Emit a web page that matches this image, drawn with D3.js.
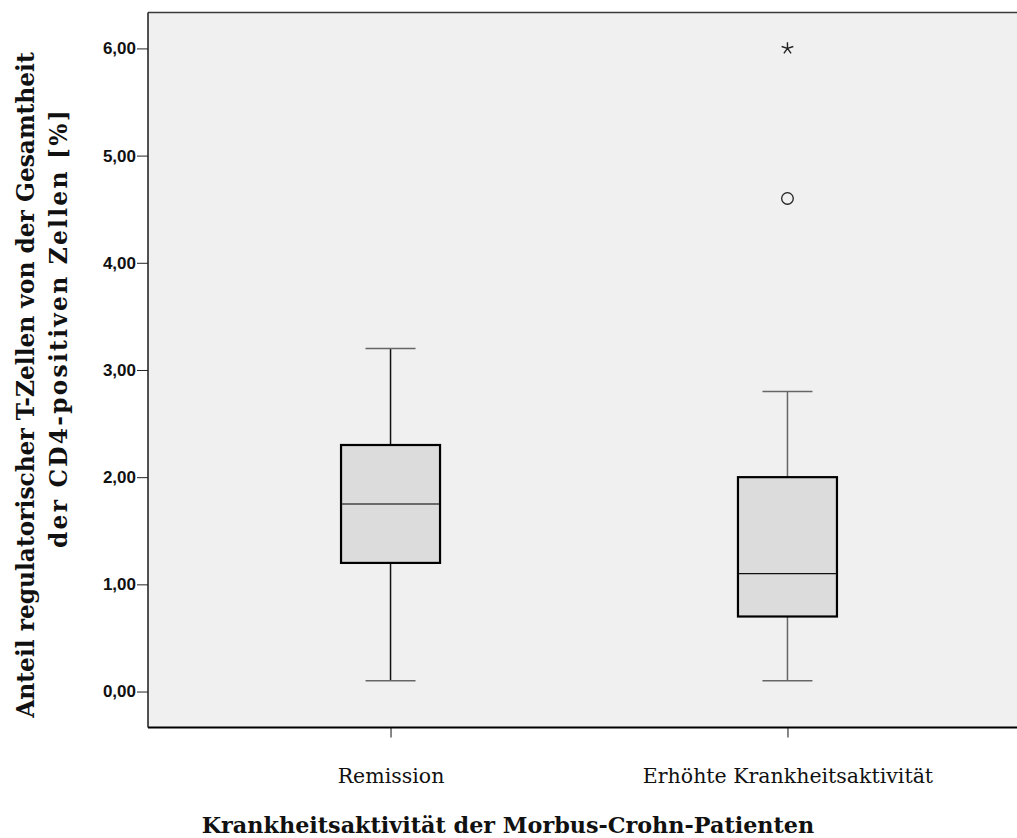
<!DOCTYPE html>
<html>
<head>
<meta charset="utf-8">
<script src="https://cdn.jsdelivr.net/npm/d3@7/dist/d3.min.js"></script>
<style>
  html, body { margin: 0; padding: 0; background: #ffffff; }
  svg { display: block; }
</style>
</head>
<body>
<svg id="chart" width="1017" height="838"></svg>
<script>
// Group labels along the x axis
const categories = ["Remission", "Erhöhte Krankheitsaktivität"];
// Box-plot summary per group (percent)
const whiskerLow  = [0.10, 0.10];
const quartile1   = [1.20, 0.70];
const medians     = [1.75, 1.10];
const quartile3   = [2.30, 2.00];
const whiskerHigh = [3.20, 2.80];
// Outliers: circles (mild) and stars (extreme)
const outlierGroup = ["Erhöhte Krankheitsaktivität"];
const outlierValue = [4.60];
const extremeGroup = ["Erhöhte Krankheitsaktivität"];
const extremeValue = [6.00];
// Y axis ticks
const yTicks = [0, 1, 2, 3, 4, 5, 6];

const svg = d3.select("#chart");
const plot = { left: 148, top: 12.5, right: 1030, bottom: 727.5 };

const y = d3.scaleLinear().domain([-0.3355, 6.335]).range([plot.bottom, plot.top]);
const x = d3.scalePoint().domain(categories).range([plot.left, plot.right]).padding(0.611);

const boxW = 99, capW = 50;

// Plot background
svg.append("rect")
  .attr("x", plot.left).attr("y", plot.top)
  .attr("width", plot.right - plot.left).attr("height", plot.bottom - plot.top)
  .attr("fill", "#f0f0f0");

// Frame
svg.append("line").attr("x1", plot.left).attr("x2", plot.right)
  .attr("y1", plot.top).attr("y2", plot.top)
  .attr("stroke", "#3a3a3a").attr("stroke-width", 1.5);
svg.append("line").attr("x1", plot.left).attr("x2", plot.right)
  .attr("y1", plot.bottom).attr("y2", plot.bottom)
  .attr("stroke", "#000").attr("stroke-width", 2);

// Y axis
const yAxis = d3.axisLeft(y).tickValues(yTicks)
  .tickSize(11).tickPadding(1)
  .tickFormat(d => d3.format(".2f")(d).replace(".", ","));
const gy = svg.append("g").attr("transform", `translate(${plot.left},0)`).call(yAxis);
gy.select(".domain").attr("d", `M0,${plot.top}V${plot.bottom}`).attr("stroke", "#1a1a1a").attr("stroke-width", 1.5);
gy.selectAll(".tick line").attr("stroke", "#222").attr("stroke-width", 1);
gy.selectAll(".tick text")
  .attr("font-family", "Liberation Sans, Arial, sans-serif")
  .attr("font-size", 17).attr("font-weight", "bold").attr("fill", "#111");

// X axis
const xAxis = d3.axisBottom(x).tickSize(10).tickPadding(31).tickSizeOuter(0);
const gx = svg.append("g").attr("transform", `translate(0,${plot.bottom})`).call(xAxis);
gx.select(".domain").remove();
gx.selectAll(".tick line").attr("stroke", "#111").attr("stroke-width", 1);
gx.selectAll(".tick text")
  .attr("font-family", "DejaVu Serif, serif")
  .attr("font-size", 20.5).attr("fill", "#111");

// Box plots
const groups = categories.map((c, i) => ({
  c, lo: whiskerLow[i], q1: quartile1[i], med: medians[i], q3: quartile3[i], hi: whiskerHigh[i]
}));
const g = svg.append("g").selectAll("g").data(groups).join("g");
const whiskerColor = ["#111", "#666"];
const capColor = ["#666", "#666"];

// Whisker stems
g.append("line").attr("x1", d => x(d.c)).attr("x2", d => x(d.c))
  .attr("y1", d => y(d.q3)).attr("y2", d => y(d.hi))
  .attr("stroke", (d, i) => whiskerColor[i]).attr("stroke-width", 1.5);
g.append("line").attr("x1", d => x(d.c)).attr("x2", d => x(d.c))
  .attr("y1", d => y(d.q1)).attr("y2", d => y(d.lo))
  .attr("stroke", (d, i) => whiskerColor[i]).attr("stroke-width", 1.5);
// Caps
g.append("line").attr("x1", d => x(d.c) - capW / 2).attr("x2", d => x(d.c) + capW / 2)
  .attr("y1", d => y(d.hi)).attr("y2", d => y(d.hi))
  .attr("stroke", (d, i) => capColor[i]).attr("stroke-width", 1.5);
g.append("line").attr("x1", d => x(d.c) - capW / 2).attr("x2", d => x(d.c) + capW / 2)
  .attr("y1", d => y(d.lo)).attr("y2", d => y(d.lo))
  .attr("stroke", (d, i) => capColor[i]).attr("stroke-width", 1.5);
// Boxes
g.append("rect")
  .attr("x", d => x(d.c) - boxW / 2).attr("width", boxW)
  .attr("y", d => y(d.q3)).attr("height", d => y(d.q1) - y(d.q3))
  .attr("fill", "#dcdcdc").attr("stroke", "#000").attr("stroke-width", 2.2);
// Medians
g.append("line").attr("x1", d => x(d.c) - boxW / 2 + 1).attr("x2", d => x(d.c) + boxW / 2 - 1)
  .attr("y1", d => y(d.med)).attr("y2", d => y(d.med))
  .attr("stroke", (d, i) => i === 0 ? "#444" : "#111").attr("stroke-width", 1.4);

// Mild outliers
svg.append("g").selectAll("circle").data(outlierValue).join("circle")
  .attr("cx", (d, i) => x(outlierGroup[i])).attr("cy", d => y(d)).attr("r", 5.8)
  .attr("fill", "none").attr("stroke", "#222").attr("stroke-width", 1.3);

// Extreme values: five-armed asterisk
const star5 = {
  draw(ctx, size) {
    const r = Math.sqrt(size) / 2;
    for (let k = 0; k < 5; k++) {
      const a = -Math.PI / 2 + k * 2 * Math.PI / 5;
      ctx.moveTo(0, 0);
      ctx.lineTo(r * Math.cos(a), r * Math.sin(a));
    }
  }
};
svg.append("g").selectAll("path").data(extremeValue).join("path")
  .attr("transform", (d, i) => `translate(${x(extremeGroup[i])},${y(d)})`)
  .attr("d", d3.symbol(star5, 150))
  .attr("fill", "none").attr("stroke", "#222").attr("stroke-width", 1.4);

// X axis title
svg.append("text")
  .attr("x", 508).attr("y", 833)
  .attr("text-anchor", "middle")
  .attr("font-family", "DejaVu Serif, serif").attr("font-weight", "bold")
  .attr("font-size", 22.3).attr("fill", "#111")
  .text("Krankheitsaktivität der Morbus-Crohn-Patienten");

// Y axis title, two lines at one size; the second line is lightly tracked out
const yTitle = [
  { text: "Anteil regulatorischer T-Zellen von der Gesamtheit", x: 34, yc: 385, span: 666 },
  { text: "der CD4-positiven Zellen [%]", x: 67, yc: 328, span: 440 }
];
const els = yTitle.map(t => svg.append("text")
  .attr("transform", `translate(${t.x},${t.yc}) rotate(-90)`)
  .attr("text-anchor", "middle")
  .attr("font-family", "DejaVu Serif, serif").attr("font-weight", "bold")
  .attr("font-size", 20).attr("fill", "#111")
  .text(t.text));
const fs = 20 * yTitle[0].span / els[0].node().getComputedTextLength();
els.forEach(el => el.attr("font-size", fs));
const len2 = els[1].node().getComputedTextLength();
els[1].attr("letter-spacing", Math.max(0, (yTitle[1].span - len2) / yTitle[1].text.length));
</script>
</body>
</html>
